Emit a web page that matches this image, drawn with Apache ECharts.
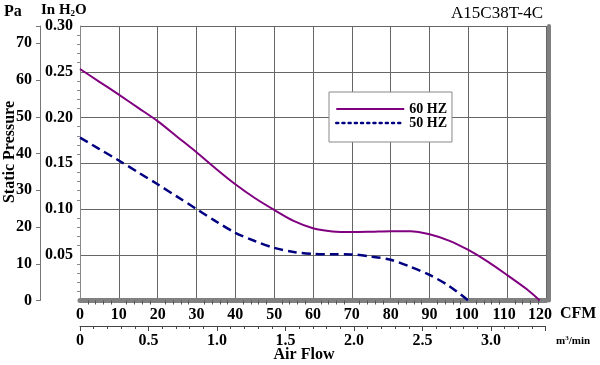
<!DOCTYPE html>
<html>
<head>
<meta charset="utf-8">
<script src="https://cdn.jsdelivr.net/npm/echarts@6/dist/echarts.min.js"></script>
<style>html,body{margin:0;padding:0;background:#fff;}#c{width:600px;height:365px;}</style>
</head>
<body>
<div id="c"></div>
<script>
// ---- data ----
const titleText = 'A15C38T-4C';
const seriesNames = ['60 HZ', '50 HZ'];
const cfm60 = [0, 5, 10, 15, 20, 25, 30, 35, 40, 45, 50, 55, 60, 65, 70, 75, 80, 85, 90, 95, 100, 105, 110, 115, 118.4];
const p60 = [0.253, 0.239, 0.225, 0.2105, 0.196, 0.179, 0.162, 0.144, 0.127, 0.112, 0.099, 0.087, 0.079, 0.0755, 0.0748, 0.0752, 0.0758, 0.0758, 0.0725, 0.0655, 0.0552, 0.0425, 0.0278, 0.0125, 0];
const cfm50 = [0, 5, 10, 15, 20, 25, 30, 35, 40, 45, 50, 55, 60, 65, 70, 75, 80, 85, 90, 95, 100];
const p50 = [0.178, 0.1655, 0.153, 0.14, 0.127, 0.1135, 0.1, 0.0865, 0.074, 0.065, 0.0575, 0.053, 0.051, 0.0505, 0.0503, 0.048, 0.0445, 0.037, 0.028, 0.016, 0];
const paTicks = [0, 10, 20, 30, 40, 50, 60, 70];
const cmmTicks = [0, 0.5, 1.0, 1.5, 2.0, 2.5, 3.0];

const CFM_MAX = 120;
const IN_MAX = 0.30;
const PA_MAX = 74.7;     // 0.30 inH2O in Pa
const CMM_MAX = 3.398;   // 120 CFM in m3/min

const F = 'Liberation Serif';
const lbl = {fontFamily: F, fontWeight: 'bold', fontSize: 16, color: '#000'};
const hiddenAxis = {show: false, type: 'value', min: 0, max: 1};

const chart = echarts.init(document.getElementById('c'));
const option = {
  animation: false,
  title: {
    text: titleText, right: 52, top: 0,
    textStyle: {fontFamily: F, fontWeight: 'normal', fontSize: 17, color: '#000'}
  },
  legend: {
    orient: 'vertical', left: 329, top: 92,
    padding: [10, 5, 12, 6], itemGap: 0, itemWidth: 68, itemHeight: 10,
    borderColor: '#888', borderWidth: 1, backgroundColor: '#fff',
    textStyle: {fontFamily: F, fontWeight: 'bold', fontSize: 14, lineHeight: 14, color: '#000'},
    data: [
      {name: seriesNames[0], itemStyle: {opacity: 0}, lineStyle: {color: '#800080', width: 2, type: 'solid'}},
      {name: seriesNames[1], itemStyle: {opacity: 0}, lineStyle: {color: '#000080', width: 2.5, type: [2, 4.2], cap: 'round'}}
    ]
  },
  grid: [
    {left: 80, top: 26, right: 54, bottom: 64.5},   // main plot
    {left: 40, top: 26, right: 54, bottom: 64.5},   // Pa scale
    {left: 80, top: 26, right: 54.5, bottom: 39}    // m3/min scale
  ],
  xAxis: [
    {
      gridIndex: 0, type: 'value', min: 0, max: CFM_MAX, interval: 10, position: 'bottom',
      axisLine: {show: true, onZero: false, lineStyle: {color: '#808080', width: 5}},
      axisTick: {show: false},
      minorTick: {show: true, splitNumber: 5, length: 4, lineStyle: {color: '#555'}},
      axisLabel: Object.assign({margin: 6, formatter: function (v) {
        if (v === 120) return '{r6|' + v + '}';
        if (v === 110) return '{r3|' + v + '}';
        if (v === 100) return '{r2|' + v + '}';
        return String(v);
      }, rich: {
        r6: {fontFamily: F, fontWeight: 'bold', fontSize: 16, padding: [0, 12, 0, 0]},
        r3: {fontFamily: F, fontWeight: 'bold', fontSize: 16, padding: [0, 6, 0, 0]},
        r2: {fontFamily: F, fontWeight: 'bold', fontSize: 16, padding: [0, 3, 0, 0]}
      }}, lbl),
      splitLine: {show: true, lineStyle: {color: '#666', width: 1}}
    },
    Object.assign({gridIndex: 1}, hiddenAxis),
    {
      gridIndex: 2, type: 'value', min: 0, max: CMM_MAX, interval: 0.5, position: 'bottom',
      axisLine: {show: true, onZero: false, lineStyle: {color: '#444', width: 1}},
      axisTick: {show: true, length: 5, lineStyle: {color: '#444'}},
      minorTick: {show: true, splitNumber: 5, length: 3, lineStyle: {color: '#444'}},
      axisLabel: Object.assign({margin: 7, formatter: function (v) {
        const r = Math.round(v * 10) / 10;
        if (cmmTicks.indexOf(r) >= 0 && Math.abs(v - r) < 1e-6) return r === 0 ? '0' : r.toFixed(1);
        return ' ';
      }}, lbl),
      splitLine: {show: false}
    }
  ],
  yAxis: [
    {
      gridIndex: 0, type: 'value', min: 0, max: IN_MAX, interval: 0.05, position: 'left',
      axisLine: {show: true, onZero: false, lineStyle: {color: '#888', width: 1}},
      axisTick: {show: false},
      minorTick: {show: true, splitNumber: 5, length: 3, lineStyle: {color: '#888'}},
      axisLabel: Object.assign({margin: 7, formatter: function (v) {
        return v === 0 ? ' ' : v.toFixed(2);
      }}, lbl),
      splitLine: {show: true, lineStyle: {color: '#666', width: 1}}
    },
    {
      gridIndex: 1, type: 'value', min: 0, max: PA_MAX, interval: 10, position: 'left',
      axisLine: {show: true, onZero: false, lineStyle: {color: '#777', width: 1}},
      axisTick: {show: true, length: 4, lineStyle: {color: '#777'}},
      axisLabel: Object.assign({margin: 8, formatter: function (v) {
        return paTicks.indexOf(v) >= 0 ? String(v) : ' ';
      }}, lbl),
      splitLine: {show: false}
    },
    Object.assign({gridIndex: 2}, hiddenAxis),
    {
      gridIndex: 0, type: 'value', min: 0, max: IN_MAX, position: 'right', offset: 2.5,
      axisLine: {show: true, onZero: false, lineStyle: {color: '#808080', width: 4}},
      axisTick: {show: false}, axisLabel: {show: false}, splitLine: {show: false}
    }
  ],
  graphic: [
    {type: 'text', left: 4, top: 4, style: {text: 'Pa', font: 'bold 16px "Liberation Serif"', fill: '#000'}},
    {type: 'text', left: 41, top: 3, style: {
      text: 'In H{s|2}O', font: 'bold 15px "Liberation Serif"', fill: '#000',
      rich: {s: {fontFamily: F, fontWeight: 'bold', fontSize: 9, padding: [6, 0, 0, 0]}}
    }},
    {type: 'text', x: 10, y: 152, rotation: Math.PI / 2, style: {
      text: 'Static Pressure', font: 'bold 16px "Liberation Serif"', fill: '#000', align: 'center', verticalAlign: 'middle'
    }},
    {type: 'text', x: 560, y: 314, style: {text: 'CFM', font: 'bold 16px "Liberation Serif"', fill: '#000', verticalAlign: 'middle'}},
    {type: 'text', x: 556, y: 341, style: {
      text: 'm{s|3}/min', font: 'bold 11px "Liberation Serif"', fill: '#000', verticalAlign: 'middle',
      rich: {s: {fontFamily: F, fontWeight: 'bold', fontSize: 7, padding: [0, 0, 5, 0]}}
    }},
    {type: 'text', x: 304, y: 355, style: {text: 'Air Flow', font: 'bold 16px "Liberation Serif"', fill: '#000', align: 'center', verticalAlign: 'middle'}}
  ],
  series: [
    {
      name: seriesNames[0], type: 'line', xAxisIndex: 0, yAxisIndex: 0,
      data: cfm60.map((x, i) => [x, p60[i]]),
      smooth: 0.3, symbol: 'none', z: 5,
      lineStyle: {color: '#800080', width: 2}, itemStyle: {color: '#800080'}
    },
    {
      name: seriesNames[1], type: 'line', xAxisIndex: 0, yAxisIndex: 0,
      data: cfm50.map((x, i) => [x, p50[i]]),
      smooth: 0.3, symbol: 'none', z: 5,
      lineStyle: {color: '#000080', width: 2.5, type: [9, 5]}, itemStyle: {color: '#000080'}
    }
  ]
};
chart.setOption(option);
</script>
</body>
</html>
